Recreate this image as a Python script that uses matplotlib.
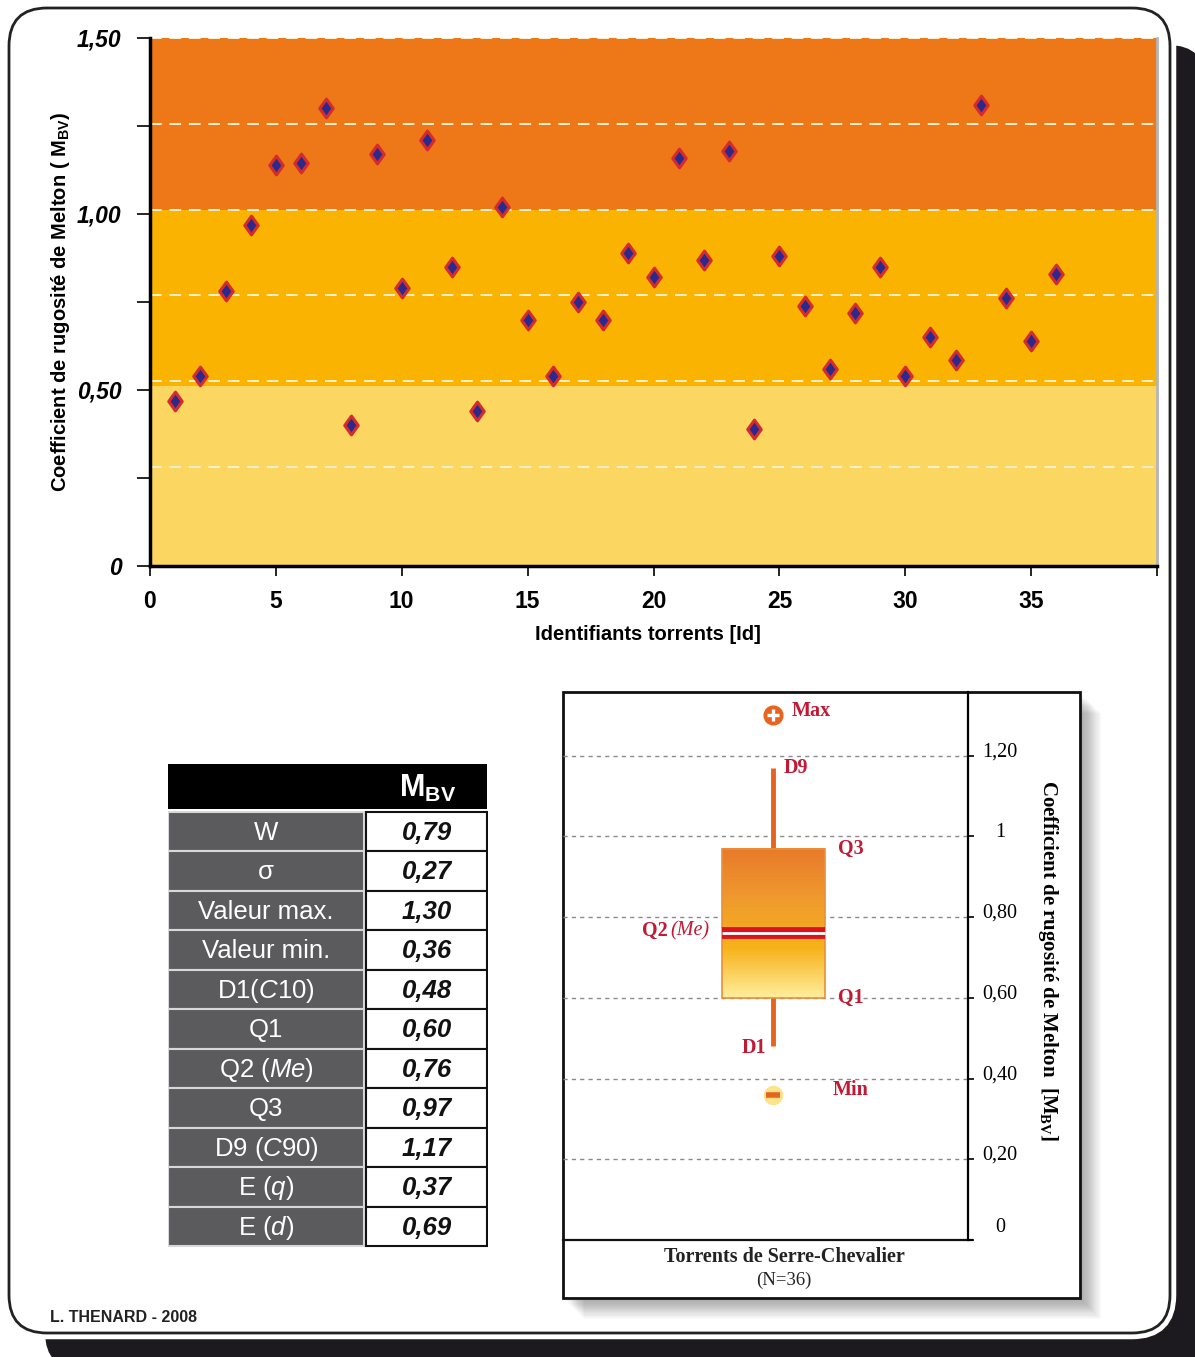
import numpy as np
import matplotlib
matplotlib.use("Agg")
import matplotlib.pyplot as plt
from matplotlib.patches import FancyBboxPatch, Rectangle
from matplotlib.colors import LinearSegmentedColormap
from matplotlib.path import Path
from matplotlib.transforms import ScaledTranslation, blended_transform_factory

plt.rcParams['font.family'] = ['Liberation Sans', 'DejaVu Sans']
plt.rcParams['mathtext.fontset'] = 'custom'
plt.rcParams['mathtext.rm'] = 'Liberation Sans'
plt.rcParams['mathtext.it'] = 'Liberation Sans:italic'
plt.rcParams['mathtext.bf'] = 'Liberation Sans:bold'

# --- data -------------------------------------------------------------
torrent_ids = list(range(1, 37))
melton = [0.47, 0.54, 0.78, 0.97, 1.14, 1.145, 1.30, 0.40, 1.17, 0.79,
          1.21, 0.85, 0.44, 1.02, 0.70, 0.54, 0.75, 0.70, 0.89, 0.82,
          1.16, 0.87, 1.18, 0.39, 0.88, 0.74, 0.56, 0.72, 0.85, 0.54,
          0.65, 0.585, 1.31, 0.76, 0.64, 0.83]

band_edges = [0, 0.51, 1.01, 1.5]
band_colors = ['#FBD660', '#F9B300', '#EE7818']
dash_levels = [0.28, 0.525, 0.77, 1.01, 1.255, 1.5]

stat_names = ['W', 'σ', 'Valeur max.', 'Valeur min.', r'D1$\mathit{(C10)}$', 'Q1',
              r'Q2 $\mathit{(Me)}$', 'Q3', r'D9 $\mathit{(C90)}$', r'E $\mathit{(q)}$',
              r'E $\mathit{(d)}$']
stat_values = [0.79, 0.27, 1.30, 0.36, 0.48, 0.60, 0.76, 0.97, 1.17, 0.37, 0.69]

v_max, v_min = 1.30, 0.36
d1, q1, q2, q3, d9 = 0.48, 0.60, 0.76, 0.97, 1.17

box_ticks = [0, 0.2, 0.4, 0.6, 0.8, 1.0, 1.2]
box_tick_labels = ['0', '0,20', '0,40', '0,60', '0,80', '1', '1,20']

W, H = 1195, 1357
fig = plt.figure(figsize=(W / 100, H / 100), dpi=100)

def px_axes(x0, y0, x1, y1):
    return fig.add_axes([x0 / W, 1 - y1 / H, (x1 - x0) / W, (y1 - y0) / H])

# background frame with black drop shadow
bg = fig.add_axes([0, 0, 1, 1], zorder=-10)
bg.set_xlim(0, W)
bg.set_ylim(H, 0)
bg.axis('off')
bg.add_patch(FancyBboxPatch((45, 45), 1161, 1325, boxstyle="round,pad=0,rounding_size=38",
                            facecolor='#1c1a1e', edgecolor='none'))
bg.add_patch(FancyBboxPatch((9, 8), 1161, 1325, boxstyle="round,pad=0,rounding_size=38",
                            facecolor='white', edgecolor='white', lw=9))
bg.add_patch(FancyBboxPatch((9, 8), 1161, 1325, boxstyle="round,pad=0,rounding_size=38",
                            facecolor='white', edgecolor='#222222', lw=2))

# --- top scatter ------------------------------------------------------
ax = px_axes(150, 38, 1157, 566)
ax.set_xlim(0, 40)
ax.set_ylim(0, 1.5)
for i in range(3):
    ax.axhspan(band_edges[i], band_edges[i + 1], color=band_colors[i], lw=0, zorder=0)
for lev in dash_levels:
    ax.axhline(lev, color='#FFF1CF', lw=1.4, dashes=(6, 4), zorder=1)

diamond = Path([(0, 1), (0.72, 0), (0, -1), (-0.72, 0), (0, 1)],
               [Path.MOVETO, Path.LINETO, Path.LINETO, Path.LINETO, Path.CLOSEPOLY])
ax.plot(torrent_ids, melton, linestyle='none', marker=diamond, ms=13.5,
        mfc='#2B2A8C', mec='#D42C2C', mew=2.2, zorder=3, clip_on=False)

ax.spines['top'].set_visible(False)
ax.spines['left'].set_linewidth(2.5)
ax.spines['bottom'].set_linewidth(2.5)
ax.spines['right'].set_color('#b5b5b5')
ax.spines['right'].set_linewidth(2)

yt = [0, 0.25, 0.5, 0.75, 1.0, 1.25, 1.5]
ax.set_yticks(yt)
ax.set_yticklabels(['0', '', '0,50', '', '1,00', '', '1,50'],
                   fontweight='bold', fontstyle='italic', fontsize=16.5)
xt = [0, 5, 10, 15, 20, 25, 30, 35, 40]
ax.set_xticks(xt)
ax.set_xticklabels(['0', '5', '10', '15', '20', '25', '30', '35', ''],
                   fontweight='bold', fontsize=16.5,
                   family=['Liberation Sans Narrow', 'Liberation Sans'])
ax.tick_params(axis='y', length=9.5, width=1.2, pad=11)
ax.tick_params(axis='x', length=7, width=1.2, pad=10)
ax.set_xlabel('Identifiants torrents [Id]', fontweight='bold', fontsize=14.5)
ax.xaxis.set_label_coords(0.494, -0.112)
ax.set_ylabel(r'Coefficient de rugosité de Melton ( M$_{\mathregular{BV}}$)',
              fontweight='bold', fontsize=14.5)
ax.yaxis.set_label_coords(-0.077, 0.5)

# --- statistics table -------------------------------------------------
tx = px_axes(168, 764, 488, 1248)
tx.set_xlim(168, 488)
tx.set_ylim(1248, 764)
tx.axis('off')
tx.add_patch(Rectangle((168, 764), 319, 45, facecolor='black', edgecolor='none'))
tx.text(428, 788, r'M$_{\mathregular{BV}}$', color='white', fontweight='bold',
        fontsize=22, ha='center', va='center')
row_h = 39.5
for i, (name, val) in enumerate(zip(stat_names, stat_values)):
    y0 = 812 + i * row_h
    tx.add_patch(Rectangle((168, y0), 196, row_h, facecolor='#5B5B5D',
                           edgecolor='#d8d8d8', lw=1.5))
    tx.add_patch(Rectangle((366, y0), 121, row_h, facecolor='white',
                           edgecolor='#111111', lw=1.5))
    tx.text(266, y0 + row_h / 2 + 1, name, color='white', fontsize=18.5,
            ha='center', va='center')
    tx.text(427, y0 + row_h / 2 + 1, f'{val:.2f}'.replace('.', ','), color='#111111',
            fontsize=18.5, fontweight='bold', fontstyle='italic',
            ha='center', va='center')

# --- box plot panel ---------------------------------------------------
for k in range(1, 20):
    bg.add_patch(Rectangle((563 + k * 1.1, 692 + k * 1.1), 517, 606,
                           facecolor='black', alpha=0.018, edgecolor='none'))
bg.add_patch(Rectangle((563, 692), 517, 606, facecolor='white',
                       edgecolor='#111111', lw=2))
bg.plot([563, 972], [1240, 1240], color='#111111', lw=1.6)

serif = ['Liberation Serif', 'DejaVu Serif']
crimson = '#C21A35'
orange = '#E8641E'

bx = px_axes(563, 692, 968, 1240)
bx.set_xlim(0, 1)
bx.set_ylim(0, 1.358)
bx.patch.set_alpha(0)
for s in ['top', 'left', 'bottom']:
    bx.spines[s].set_visible(False)
bx.spines['right'].set_linewidth(1.6)
bx.yaxis.tick_right()
bx.set_xticks([])
bx.set_yticks(box_ticks)
bx.set_yticklabels([])
bx.tick_params(axis='y', length=4, width=1.2)
trans = blended_transform_factory(bx.transAxes, bx.transData)
for v, lab in zip(box_ticks, box_tick_labels):
    dy = 12 if v == 0 else 4
    bx.text(1.079, v, lab, family=serif, fontsize=14.5, ha='center', va='center',
            transform=trans + ScaledTranslation(0, dy / 100, fig.dpi_scale_trans))
for lev in box_ticks[1:]:
    bx.axhline(lev, color='#8a8a8a', lw=1, dashes=(3, 3), zorder=1)
bx.yaxis.set_label_position('right')
bx.set_ylabel(r'Coefficient de rugosité de Melton  [M$_{\mathregular{BV}}$]',
              family=serif, fontsize=15, fontweight='bold', rotation=270, va='center')
bx.yaxis.set_label_coords(1.198, 0.51)

xc, bw = 0.519, 0.254
cmap = LinearSegmentedColormap.from_list(
    'box', ['#FFEE9E', '#F7B21A', '#EF9A2E', '#E8792A'])
grad = np.linspace(0, 1, 256).reshape(-1, 1)
bx.imshow(grad, cmap=cmap, origin='lower', aspect='auto',
          extent=[xc - bw / 2, xc + bw / 2, q1, q3], zorder=2)
bx.add_patch(Rectangle((xc - bw / 2, q1), bw, q3 - q1, facecolor='none',
                       edgecolor='#E8903A', lw=1.2, zorder=3))
bx.plot([xc - bw / 2, xc + bw / 2], [q2, q2], color='#D9141E', lw=8.5,
        solid_capstyle='butt', zorder=4)
bx.plot([xc - bw / 2, xc + bw / 2], [q2, q2], color='white', lw=2,
        solid_capstyle='butt', zorder=5)
bx.plot([xc, xc], [q3, d9], color=orange, lw=3.5, solid_capstyle='butt', zorder=2)
bx.plot([xc, xc], [d1, q1], color=orange, lw=3.5, solid_capstyle='butt', zorder=2)
bx.plot([xc], [v_max], marker='o', ms=13.5, color=orange, zorder=4, clip_on=False)
bx.plot([xc], [v_max], marker='+', ms=8, mew=2.4, color='white', zorder=5)
bx.plot([xc], [v_min], marker='o', ms=13, color='#FDE48A', zorder=4)
bx.plot([xc], [v_min], marker='_', ms=10, mew=4, color=orange, zorder=5)

lab_kw = dict(family=serif, fontsize=14.5, fontweight='bold', color=crimson, va='center')
bx.text(0.565, v_max + 0.01, 'Max', **lab_kw)
bx.text(0.546, d9 + 0.0, 'D9', **lab_kw)
bx.text(0.679, q3 + 0.0, 'Q3', **lab_kw)
bx.text(0.679, q1 + 0.0, 'Q1', **lab_kw)
bx.text(0.502, d1 - 0.005, 'D1', ha='right', **lab_kw)
bx.text(0.667, v_min + 0.012, 'Min', **lab_kw)
bx.text(0.258, q2 + 0.006, 'Q2', ha='right', **lab_kw)
bx.text(0.266, q2 + 0.006, '(Me)', ha='left', family=serif, fontsize=14.5,
        fontstyle='italic', color=crimson, va='center')

bg.text(784, 1257, 'Torrents de Serre-Chevalier', family=serif, fontsize=14.5,
        fontweight='bold', color='#222222', ha='center', va='center')
bg.text(784, 1280, '(N=36)', family=serif, fontsize=13.5, color='#222222',
        ha='center', va='center')

bg.text(50, 1317, 'L. THENARD - 2008', fontsize=11.5, fontweight='bold',
        color='#222222', ha='left', va='center')

fig.savefig('out.png', dpi=100)
